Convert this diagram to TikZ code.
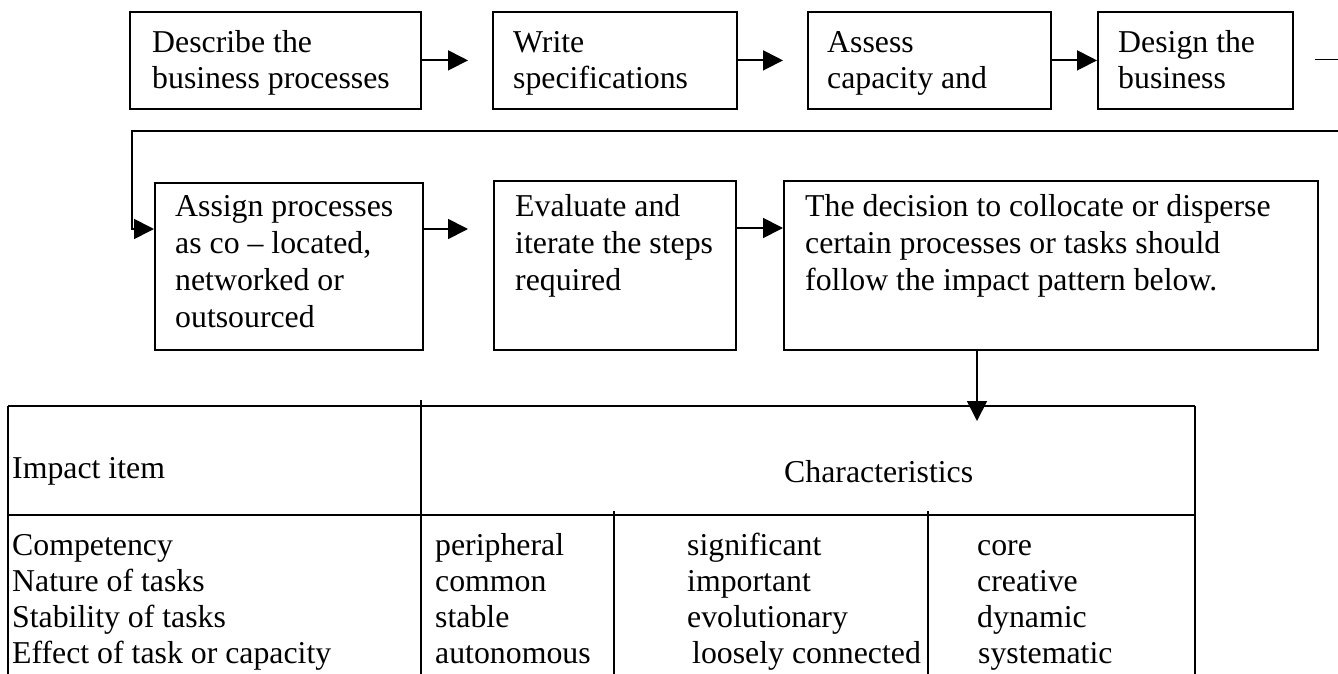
\documentclass[tikz,border=0pt]{standalone}
\usepackage{fontspec}
\setmainfont{Liberation Serif}
\usetikzlibrary{arrows.meta}
\newcommand{\myst}{\rule{0pt}{24pt}}
\begin{document}
\begin{tikzpicture}[x=1pt,y=-1pt,
  box/.style={draw, line width=1.8pt, rectangle, inner sep=0pt, anchor=north west},
  txt/.style={anchor=north west, inner sep=0pt, align=left, font=\fontsize{31.8}{37}\selectfont},
  ttxt/.style={txt, font=\fontsize{31.8}{36}\selectfont},
  conn/.style={line width=1.8pt},
  arr/.style={line width=1.8pt, -{Triangle[length=20pt,width=20pt]}},
  tab/.style={line width=1.5pt}]
\useasboundingbox (0,0) rectangle (1338,674);

% top row
\node[box, minimum width=291pt, minimum height=97pt] (b1) at (129,11) {};
\node[box, minimum width=244pt, minimum height=97pt] (b2) at (492,11) {};
\node[box, minimum width=243pt, minimum height=97pt] (b3) at (807,11) {};
\node[box, minimum width=195pt, minimum height=97pt] (b4) at (1097,11) {};
\node[ttxt] (t1) at (152,28) {\myst Describe the\\business processes};
\node[ttxt] (t2) at (513,28) {\myst Write\\specifications};
\node[ttxt] (t3) at (827,28) {\myst Assess\\capacity and};
\node[ttxt] (t4) at (1118,28) {\myst Design the\\business};

% second row
\node[box, minimum width=268pt, minimum height=167pt] (b5) at (154,182) {};
\node[box, minimum width=242pt, minimum height=169pt] (b6) at (493,180) {};
\node[box, minimum width=534pt, minimum height=169pt] (b7) at (783,180) {};
\node[txt] (t5) at (175,192) {\myst Assign processes\\as co -- located,\\networked or\\outsourced};
\node[txt] (t6) at (515,192) {\myst Evaluate and\\iterate the steps\\required};
\node[txt] (t7) at (805,192) {\myst The decision to collocate or disperse\\certain processes or tasks should\\follow the impact pattern below.};

% connectors
\draw[arr, shorten >=24pt] (b1.east) -- (b2.west);
\draw[arr, shorten >=24pt] (b2.east) -- (b3.west);
\draw[arr] (b3.east) -- (b4.west);
\coordinate (w1) at (1315,59.5);
\coordinate (w2) at (1338,59.5);
\draw[conn] (w1) -- (w2);
\coordinate (w3) at (1338,131);
\coordinate (w4) at (132,131);
\draw[arr] (w3) -- (w4) |- ([yshift=-47pt]b5.north west);
\draw[arr, shorten >=25pt] ([yshift=-47pt]b5.north east) -- ([yshift=-47pt]b5.north east -| b6.west);
\draw[arr] ([yshift=-48pt]b6.north east) -- ([yshift=-48pt]b6.north east -| b7.west);
\coordinate (d1) at (977,421);
\draw[arr] (b7.south -| d1) -- (d1);

% table
\draw[tab] (8,406) -- (1195,406);
\draw[tab] (8,406) -- (8,674);
\draw[tab] (421,400) -- (421,674);
\draw[tab] (8,515) -- (1195,515);
\draw[tab] (1195,406) -- (1195,674);
\draw[tab] (614,511) -- (614,674);
\draw[tab] (928,511) -- (928,674);

\node[ttxt] (h1) at (12,454) {\myst Impact item};
\node[ttxt] (h2) at (784,458) {\myst Characteristics};
\node[ttxt] (c1) at (12,531) {\myst Competency\\Nature of tasks\\Stability of tasks\\Effect of task or capacity};
\node[ttxt] (c2) at (435,531) {\myst peripheral\\common\\stable\\autonomous};
\node[ttxt] (c3) at (687,531) {\myst significant\\important\\evolutionary\\\hspace*{5pt}loosely connected};
\node[ttxt] (c4) at (977,531) {\myst core\\creative\\dynamic\\\hspace*{1pt}systematic};
\end{tikzpicture}
\end{document}
